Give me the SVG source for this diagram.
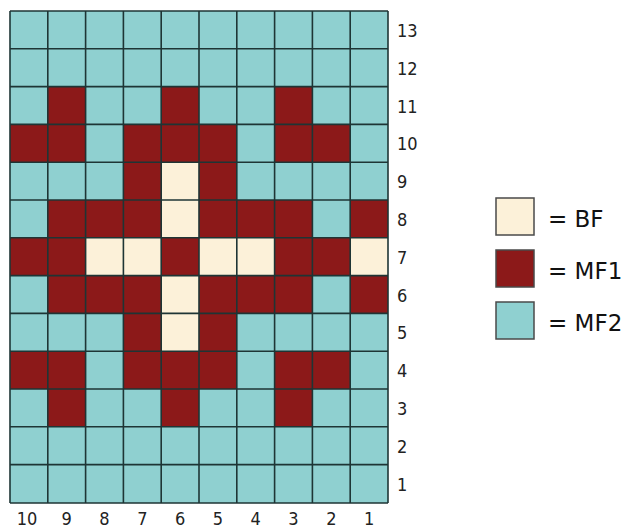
<svg xmlns="http://www.w3.org/2000/svg" width="627" height="528" viewBox="0 0 627 528">
<style>
.t{fill:#8fd0d0}.r{fill:#8c1919}.c{fill:#fcf1d9}
.lbl{font-family:"DejaVu Sans Condensed","DejaVu Sans","Liberation Sans",sans-serif;font-size:18px;fill:#222}
.leg{font-family:"DejaVu Sans","Liberation Sans",sans-serif;font-size:23px;fill:#111}
.sw{stroke:#4a4a4a;stroke-width:1.5}
.grid line{stroke:#1e3535;stroke-width:1.6}
</style>
<rect width="627" height="528" fill="#ffffff"/>
<g id="chart">
<rect x="10" y="11" width="378" height="492" class="t"/>
<!-- row 11 -->
<rect class="r" x="47.8" y="86.6" width="37.8" height="37.8"/>
<rect class="r" x="161.2" y="86.6" width="37.8" height="37.8"/>
<rect class="r" x="274.6" y="86.6" width="37.8" height="37.8"/>
<!-- row 10 -->
<rect class="r" x="10" y="124.4" width="75.6" height="37.8"/>
<rect class="r" x="123.4" y="124.4" width="113.4" height="37.8"/>
<rect class="r" x="274.6" y="124.4" width="75.6" height="37.8"/>
<!-- row 9 -->
<rect class="r" x="123.4" y="162.2" width="37.8" height="37.8"/>
<rect class="c" x="161.2" y="162.2" width="37.8" height="37.8"/>
<rect class="r" x="199" y="162.2" width="37.8" height="37.8"/>
<!-- row 8 -->
<rect class="r" x="47.8" y="200" width="113.4" height="37.8"/>
<rect class="c" x="161.2" y="200" width="37.8" height="37.8"/>
<rect class="r" x="199" y="200" width="113.4" height="37.8"/>
<rect class="r" x="350.2" y="200" width="37.8" height="37.8"/>
<!-- row 7 -->
<rect class="r" x="10" y="237.8" width="75.6" height="37.8"/>
<rect class="c" x="85.6" y="237.8" width="75.6" height="37.8"/>
<rect class="r" x="161.2" y="237.8" width="37.8" height="37.8"/>
<rect class="c" x="199" y="237.8" width="75.6" height="37.8"/>
<rect class="r" x="274.6" y="237.8" width="75.6" height="37.8"/>
<rect class="c" x="350.2" y="237.8" width="37.8" height="37.8"/>
<!-- row 6 -->
<rect class="r" x="47.8" y="275.6" width="113.4" height="37.8"/>
<rect class="c" x="161.2" y="275.6" width="37.8" height="37.8"/>
<rect class="r" x="199" y="275.6" width="113.4" height="37.8"/>
<rect class="r" x="350.2" y="275.6" width="37.8" height="37.8"/>
<!-- row 5 -->
<rect class="r" x="123.4" y="313.4" width="37.8" height="37.8"/>
<rect class="c" x="161.2" y="313.4" width="37.8" height="37.8"/>
<rect class="r" x="199" y="313.4" width="37.8" height="37.8"/>
<!-- row 4 -->
<rect class="r" x="10" y="351.2" width="75.6" height="37.8"/>
<rect class="r" x="123.4" y="351.2" width="113.4" height="37.8"/>
<rect class="r" x="274.6" y="351.2" width="75.6" height="37.8"/>
<!-- row 3 -->
<rect class="r" x="47.8" y="389" width="37.8" height="37.8"/>
<rect class="r" x="161.2" y="389" width="37.8" height="37.8"/>
<rect class="r" x="274.6" y="389" width="37.8" height="37.8"/>
<g class="grid">
<line x1="10" y1="11" x2="10" y2="503"/>
<line x1="47.8" y1="11" x2="47.8" y2="503"/>
<line x1="85.6" y1="11" x2="85.6" y2="503"/>
<line x1="123.4" y1="11" x2="123.4" y2="503"/>
<line x1="161.2" y1="11" x2="161.2" y2="503"/>
<line x1="199" y1="11" x2="199" y2="503"/>
<line x1="236.8" y1="11" x2="236.8" y2="503"/>
<line x1="274.6" y1="11" x2="274.6" y2="503"/>
<line x1="312.4" y1="11" x2="312.4" y2="503"/>
<line x1="350.2" y1="11" x2="350.2" y2="503"/>
<line x1="388" y1="11" x2="388" y2="503"/>
<line x1="10" y1="11" x2="388" y2="11"/>
<line x1="10" y1="48.8" x2="388" y2="48.8"/>
<line x1="10" y1="86.6" x2="388" y2="86.6"/>
<line x1="10" y1="124.4" x2="388" y2="124.4"/>
<line x1="10" y1="162.2" x2="388" y2="162.2"/>
<line x1="10" y1="200" x2="388" y2="200"/>
<line x1="10" y1="237.8" x2="388" y2="237.8"/>
<line x1="10" y1="275.6" x2="388" y2="275.6"/>
<line x1="10" y1="313.4" x2="388" y2="313.4"/>
<line x1="10" y1="351.2" x2="388" y2="351.2"/>
<line x1="10" y1="389" x2="388" y2="389"/>
<line x1="10" y1="426.8" x2="388" y2="426.8"/>
<line x1="10" y1="464.6" x2="388" y2="464.6"/>
<line x1="10" y1="503" x2="388" y2="503"/>
</g>
</g>
<g id="row-labels" class="lbl">
<text x="397" y="36.9">13</text>
<text x="397" y="74.7">12</text>
<text x="397" y="112.5">11</text>
<text x="397" y="150.3">10</text>
<text x="397" y="188.1">9</text>
<text x="397" y="225.9">8</text>
<text x="397" y="263.7">7</text>
<text x="397" y="301.5">6</text>
<text x="397" y="339.3">5</text>
<text x="397" y="377.1">4</text>
<text x="397" y="414.9">3</text>
<text x="397" y="452.7">2</text>
<text x="397" y="490.5">1</text>
</g>
<g id="col-labels" class="lbl" text-anchor="middle">
<text x="27" y="525">10</text>
<text x="66.7" y="525">9</text>
<text x="104.5" y="525">8</text>
<text x="142.3" y="525">7</text>
<text x="180.1" y="525">6</text>
<text x="217.9" y="525">5</text>
<text x="255.7" y="525">4</text>
<text x="293.5" y="525">3</text>
<text x="331.3" y="525">2</text>
<text x="369.1" y="525">1</text>
</g>
<g id="legend-bf">
<rect class="c sw" x="496" y="198" width="38" height="37"/>
<text class="leg" x="548" y="226.5">= BF</text>
</g>
<g id="legend-mf1">
<rect class="r sw" x="496" y="250" width="38" height="37"/>
<text class="leg" x="548" y="278.5">= MF1</text>
</g>
<g id="legend-mf2">
<rect class="t sw" x="496" y="302" width="38" height="37"/>
<text class="leg" x="548" y="330.5">= MF2</text>
</g>
</svg>
